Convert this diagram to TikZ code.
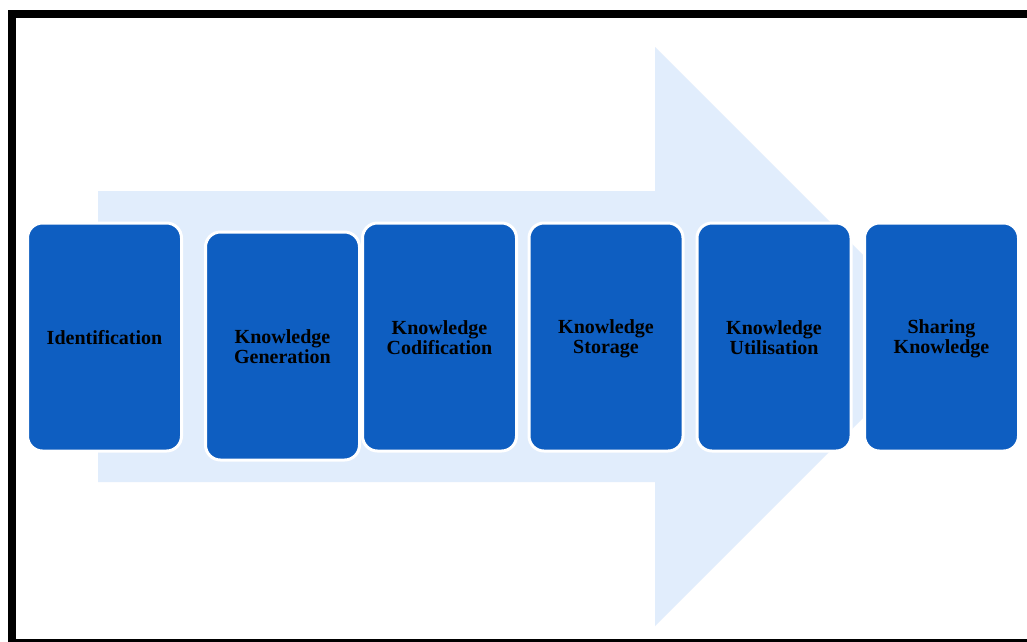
\documentclass[tikz,border=0pt]{standalone}
\usepackage{fontspec}
\setmainfont{Liberation Serif}
\definecolor{arrowbg}{HTML}{E1EDFC}
\definecolor{boxblue}{HTML}{0E5EC1}
\newcommand\stagestrut{\rule[-3pt]{0pt}{20pt}}
\newcommand\stagefont{\bfseries\fontsize{20}{20}\selectfont\lineskiplimit=-30pt\relax\lineskip=0pt\relax}
\begin{document}
\begin{tikzpicture}[x=1pt,y=-1pt,
  stagebox/.style={rectangle, rounded corners=15pt, fill=boxblue, draw=white, line width=3pt,
    minimum width=154pt, minimum height=228pt, inner sep=2pt, align=center,
    text=black, font=\stagefont},
  frameline/.style={draw=black, line width=8pt}]
\useasboundingbox (0,0) rectangle (1027,641);
\clip (0,0) rectangle (1027,641);
\fill[white] (0,0) rectangle (1027,641);
% frame
\draw[frameline] (11.5,14) rectangle (1040,643);
% big background arrow
\fill[arrowbg] (98,191) -- (655,191) -- (655,47) -- (944.5,336.5) -- (655,626) -- (655,482) -- (98,482) -- cycle;
% stages
\node[stagebox] (s1) at (104.5,337) {\stagestrut Identification};
\node[stagebox] (s2) at (282.5,346) {\stagestrut Knowledge\\\stagestrut Generation};
\node[stagebox] (s3) at (439.5,337) {\stagestrut Knowledge\\\stagestrut Codification};
\node[stagebox] (s4) at (606,337) {\stagestrut Knowledge\\\stagestrut Storage};
\node[stagebox] (s5) at (774,337) {\stagestrut Knowledge\\\stagestrut Utilisation};
\node[stagebox] (s6) at (941.5,337) {\stagestrut Sharing\\\stagestrut Knowledge};
\end{tikzpicture}
\end{document}
